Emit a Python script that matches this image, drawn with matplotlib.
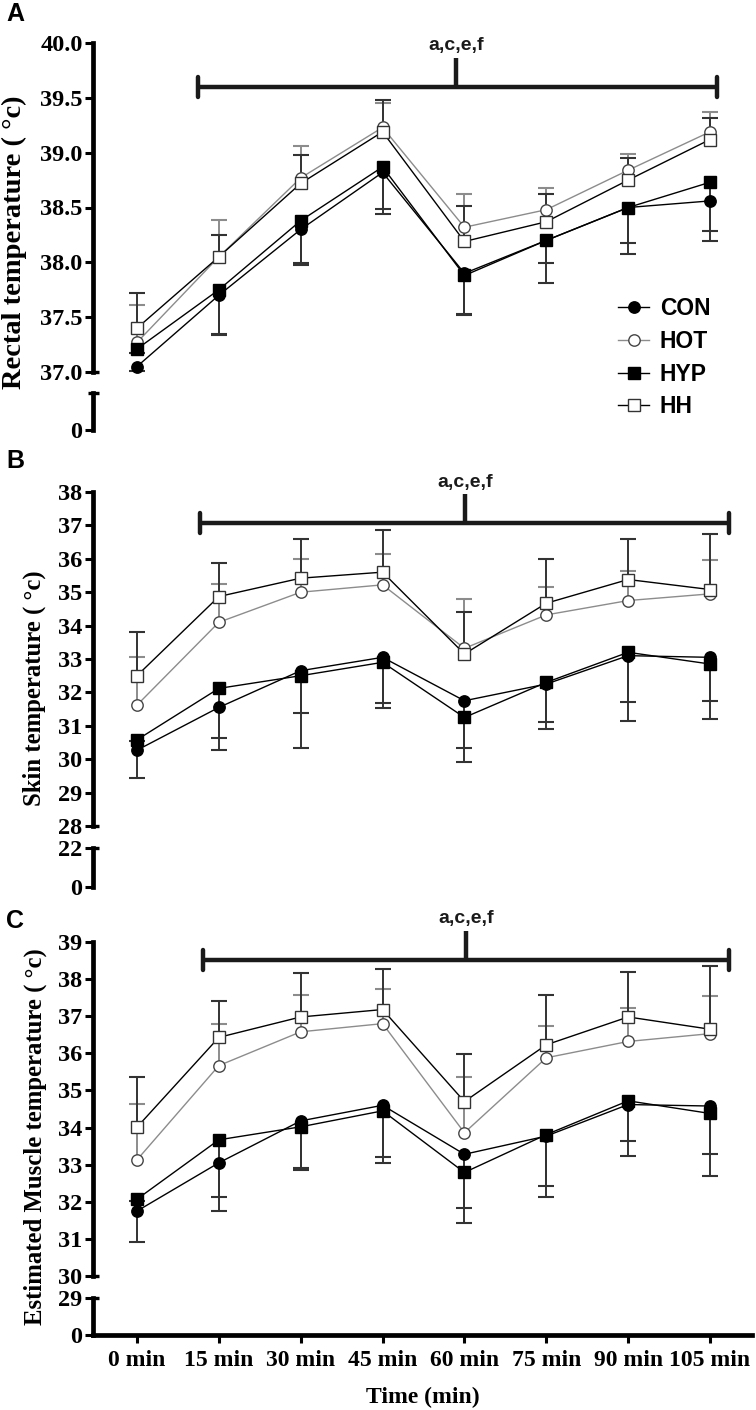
import numpy as np
import matplotlib
matplotlib.use('Agg')
import matplotlib.pyplot as plt
from matplotlib.font_manager import FontProperties
from matplotlib.transforms import blended_transform_factory

# ---------------- data ----------------
times = ['0 min', '15 min', '30 min', '45 min', '60 min', '75 min', '90 min', '105 min']
groups = ['CON', 'HOT', 'HYP', 'HH']

# Panel A: rectal temperature
rectal_con = [37.05, 37.70, 38.30, 38.82, 37.90, 38.20, 38.50, 38.56]
rectal_hot = [37.27, 38.05, 38.77, 39.23, 38.32, 38.48, 38.84, 39.19]
rectal_hyp = [37.21, 37.75, 38.38, 38.87, 37.88, 38.20, 38.50, 38.73]
rectal_hh = [37.40, 38.05, 38.72, 39.19, 38.19, 38.37, 38.75, 39.12]
rectal_con_sd = [0.04, 0.35, 0.31, 0.38, 0.37, 0.39, 0.42, 0.37]
rectal_hot_sd = [0.34, 0.34, 0.29, 0.22, 0.30, 0.20, 0.15, 0.18]
rectal_hyp_sd = [0.04, 0.41, 0.40, 0.38, 0.36, 0.21, 0.32, 0.44]
rectal_hh_sd = [0.32, 0.20, 0.26, 0.29, 0.32, 0.25, 0.20, 0.20]

# Panel B: skin temperature
skin_con = [30.27, 31.55, 32.65, 33.05, 31.75, 32.25, 33.10, 33.05]
skin_hot = [31.62, 34.10, 35.00, 35.22, 33.32, 34.32, 34.75, 34.95]
skin_hyp = [30.58, 32.12, 32.50, 32.90, 31.25, 32.30, 33.20, 32.85]
skin_hh = [32.50, 34.87, 35.42, 35.60, 33.15, 34.67, 35.38, 35.08]
skin_con_sd = [0.82, 1.27, 1.27, 1.37, 1.40, 1.15, 1.95, 1.85]
skin_hot_sd = [1.44, 1.14, 0.99, 0.92, 1.48, 0.84, 0.88, 1.01]
skin_hyp_sd = [0.05, 1.49, 2.17, 1.37, 1.32, 1.40, 1.50, 1.10]
skin_hh_sd = [1.32, 1.00, 1.17, 1.26, 1.26, 1.32, 1.21, 1.66]

# Panel C: estimated muscle temperature
muscle_con = [31.75, 33.05, 34.18, 34.60, 33.28, 33.77, 34.62, 34.58]
muscle_hot = [33.13, 35.67, 36.58, 36.80, 33.86, 35.88, 36.32, 36.53]
muscle_hyp = [32.07, 33.67, 34.02, 34.45, 32.79, 33.81, 34.72, 34.38]
muscle_hh = [34.01, 36.43, 36.98, 37.18, 34.70, 36.23, 36.98, 36.65]
muscle_con_sd = [0.83, 1.30, 1.33, 1.55, 1.45, 1.64, 1.39, 1.88]
muscle_hot_sd = [1.51, 1.12, 0.99, 0.93, 1.50, 0.85, 0.90, 1.01]
muscle_hyp_sd = [0.05, 1.54, 1.11, 1.25, 1.37, 1.39, 1.08, 1.10]
muscle_hh_sd = [1.36, 0.99, 1.19, 1.09, 1.28, 1.34, 1.21, 1.70]

sig_label = 'a,c,e,f'

# ---------------- styling ----------------
plt.rcParams['font.family'] = ['Liberation Serif', 'DejaVu Serif']
plt.rcParams['font.weight'] = 'bold'
plt.rcParams['axes.labelweight'] = 'bold'

W, H = 756, 1410
L, R = 93, 752
XLIM = (-0.5375, 7.513)
SANS = 'Liberation Sans'
SPINE_W = 3.4
TICK_W = 2.2
TICK_FS = 17.5
XTICK_FS = 17

styles = {
    'CON': dict(marker='o', mfc='black', mec='black', color='black', ecolor='#333333', side=-1),
    'HOT': dict(marker='o', mfc='white', mec='#444444', color='#8c8c8c', ecolor='#8c8c8c', side=1),
    'HYP': dict(marker='s', mfc='black', mec='black', color='black', ecolor='#333333', side=-1),
    'HH': dict(marker='s', mfc='white', mec='#333333', color='black', ecolor='#333333', side=1),
}

fig = plt.figure(figsize=(W / 100, H / 100), dpi=100)


def add_ax(top_px, bot_px):
    return fig.add_axes([L / W, 1 - bot_px / H, (R - L) / W, (bot_px - top_px) / H])


def style_left(ax):
    for s in ['top', 'right', 'bottom']:
        ax.spines[s].set_visible(False)
    ax.spines['left'].set_linewidth(SPINE_W)
    ax.tick_params(axis='y', direction='out', length=6, width=TICK_W, pad=1.5,
                   labelsize=TICK_FS)
    ax.set_xlim(*XLIM)
    ax.patch.set_alpha(0)


def end_stub(ax, yval, left=0.0, right=0.009):
    tr = blended_transform_factory(ax.transAxes, ax.transData)
    ax.plot([left, right], [yval, yval], transform=tr, color='black', lw=TICK_W * 1.1,
            solid_capstyle='butt', clip_on=False)


def panel(letter, top_px, bot_px, ltop_px, lbot_px, ylim, yticks, yfmt, lower_lim,
          lower_ticks, series, bracket, label, label_xy, label_fs, letter_y, show_x=False):
    ax = add_ax(top_px, bot_px)
    style_left(ax)
    ax.set_ylim(*ylim)
    ax.set_yticks(yticks)
    ax.set_yticklabels([yfmt.format(v) for v in yticks])
    ax.set_xticks([])
    x = np.arange(len(times))
    for g in groups:
        mean, sd = series[g]
        st = styles[g]
        mean = np.asarray(mean)
        sd = np.asarray(sd)
        end = mean + st['side'] * sd
        ax.vlines(x, mean, end, color=st['ecolor'], lw=1.4, zorder=1, clip_on=False)
        ax.plot(x, end, ls='none', marker='_', ms=12, mew=1.5, color=st['ecolor'],
                zorder=1, clip_on=False)
    for g in groups:
        mean, sd = series[g]
        st = styles[g]
        ax.plot(x, mean, color=st['color'], lw=1.0, marker=st['marker'], ms=8.2,
                mfc=st['mfc'], mec=st['mec'], mew=1.0, zorder=3, clip_on=False, label=g)
    end_stub(ax, ylim[0])

    # significance bracket
    x0, x1, xc, by = bracket
    ppu = (bot_px - top_px) / (ylim[1] - ylim[0])
    bw = 3.2
    ax.plot([x0, x1], [by, by], color='#1a1a1a', lw=bw, solid_capstyle='butt', clip_on=False)
    for xe in (x0, x1):
        ax.plot([xe, xe], [by - 10 / ppu, by + 10 / ppu], color='#1a1a1a', lw=bw,
                solid_capstyle='round', clip_on=False)
    ax.plot([xc, xc], [by, by + 29 / ppu], color='#1a1a1a', lw=bw, solid_capstyle='butt',
            clip_on=False)
    ax.text(xc, by + 41 / ppu, sig_label, ha='center', va='center', fontsize=14,
            family=SANS, fontweight='bold', color='#1a1a1a')

    # lower segment of the broken axis
    axl = add_ax(ltop_px, lbot_px)
    style_left(axl)
    axl.set_ylim(*lower_lim)
    axl.set_yticks(lower_ticks)
    axl.set_yticklabels([str(v) for v in lower_ticks])
    if len(lower_ticks) == 1:
        end_stub(axl, lower_lim[1], left=-0.008, right=0.009)
    else:
        end_stub(axl, lower_lim[1])
    if show_x:
        axl.spines['bottom'].set_visible(True)
        axl.spines['bottom'].set_linewidth(SPINE_W)
        axl.set_xticks(x)
        axl.set_xticklabels(times)
        axl.tick_params(axis='x', direction='out', length=6, width=TICK_W, pad=5,
                        labelsize=XTICK_FS)
        axl.set_xlabel('Time (min)', fontsize=XTICK_FS, labelpad=11)
    else:
        axl.set_xticks([])

    fig.text(label_xy[0] / W, 1 - label_xy[1] / H, label, rotation=90, ha='center',
             va='center', fontsize=label_fs)
    fig.text(15 / W, 1 - letter_y / H, letter, ha='center', va='center', fontsize=18,
             family=SANS, fontweight='bold')
    return ax


axA = panel('A', 43, 372, 393, 430, (37.0, 40.0), [37.0, 37.5, 38.0, 38.5, 39.0, 39.5, 40.0],
            '{:.1f}', (0, 1), [0],
            {'CON': (rectal_con, rectal_con_sd), 'HOT': (rectal_hot, rectal_hot_sd),
             'HYP': (rectal_hyp, rectal_hyp_sd), 'HH': (rectal_hh, rectal_hh_sd)},
            (0.745, 7.085, 3.897, 39.60), 'Rectal temperature ( °c)', (14, 242), 20.5, 14)

leg = axA.legend(loc='upper left', bbox_to_anchor=(607 / W, 1 - 286 / H),
                 bbox_transform=fig.transFigure, frameon=False, borderpad=0,
                 handlelength=1.35, handletextpad=0.45, labelspacing=0.42,
                 prop=FontProperties(family=SANS, weight='bold', size=16.5))

panel('B', 492, 826, 848, 887, (28, 38), list(range(28, 39)), '{:d}', (0, 22), [0, 22],
      {'CON': (skin_con, skin_con_sd), 'HOT': (skin_hot, skin_hot_sd),
       'HYP': (skin_hyp, skin_hyp_sd), 'HH': (skin_hh, skin_hh_sd)},
      (0.77, 7.23, 4.007, 37.07), 'Skin temperature ( °c)', (34, 688), 17.8, 461)

panel('C', 942, 1276, 1298, 1335, (30, 39), list(range(30, 40)), '{:d}', (0, 29), [0, 29],
      {'CON': (muscle_con, muscle_con_sd), 'HOT': (muscle_hot, muscle_hot_sd),
       'HYP': (muscle_hyp, muscle_hyp_sd), 'HH': (muscle_hh, muscle_hh_sd)},
      (0.806, 7.23, 4.02, 38.515), 'Estimated Muscle temperature ( °c)', (35, 1137), 17.8,
      921, show_x=True)

fig.savefig('out.png', dpi=100)
